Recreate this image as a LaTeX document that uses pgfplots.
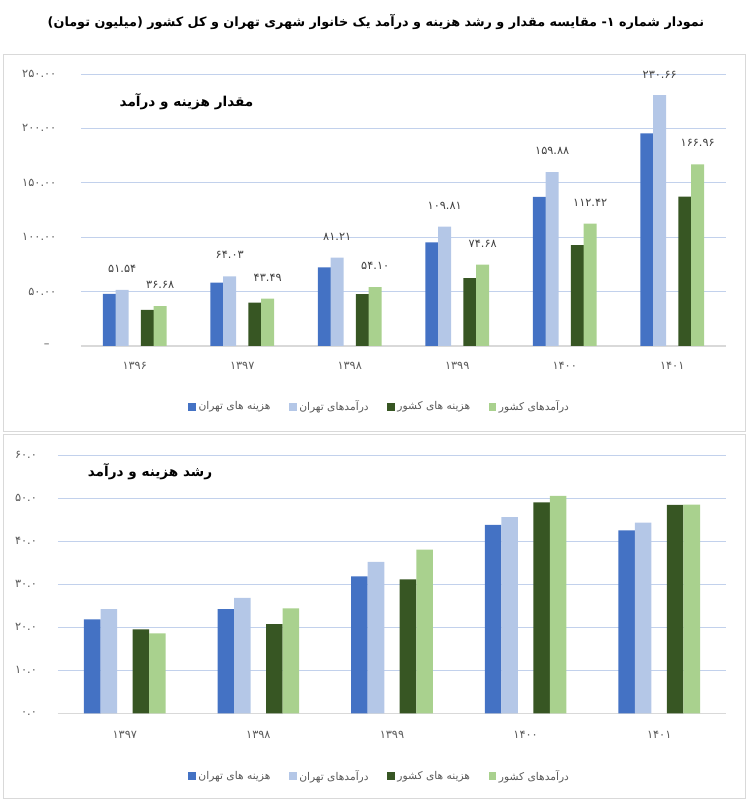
\documentclass[border=0pt]{standalone}
\usepackage{fontspec}
\usepackage{pgfplots}
\pgfplotsset{compat=1.18}
\setmainfont{DejaVu Sans}
\newfontfamily\arabicfont[Script=Arabic]{DejaVu Sans}
\TeXXeTstate=1

\definecolor{cblue}{HTML}{4472C4}
\definecolor{clblue}{HTML}{B4C7E7}
\definecolor{cdgreen}{HTML}{375623}
\definecolor{clgreen}{HTML}{A9D18E}
\definecolor{gridblue}{HTML}{C2D1EC}
\definecolor{axisgray}{HTML}{D9D9D9}
\definecolor{textgray}{HTML}{595959}
\definecolor{labelgray}{HTML}{404040}

\newcommand\fa[1]{\mbox{\arabicfont #1}}
\newcommand\rtl[1]{\mbox{\arabicfont\beginR #1\endR}}

\pgfplotsset{
  sqlegend/.style={legend image code/.code={\fill[##1] (0pt,-2.8pt) rectangle (5.6pt,2.8pt);}},
  panel/.style={
    scale only axis, ybar, clip=false,
    axis line style={draw=none},
    major tick length=0pt,
    ymajorgrids,
    major grid style={gridblue, line width=0.7pt},
    ticklabel style={font=\arabicfont\fontsize{8.5}{10}\selectfont, text=textgray},
    legend style={draw=none, fill=none, legend columns=4,
      font=\arabicfont\fontsize{8}{10}\selectfont, text=textgray,
      /tikz/every even column/.append style={column sep=12pt}},
    legend cell align=left,
  },
}

\begin{document}
\begin{tikzpicture}
\useasboundingbox (0,0) rectangle (562.5pt,600pt);
\draw[axisgray] (2.25pt,276.75pt) rectangle (558.75pt,559.5pt);
\draw[axisgray] (2.25pt,1.5pt) rectangle (558.75pt,274.5pt);

\node[font=\arabicfont\bfseries\fontsize{9.6}{12}\selectfont] at (282pt,583.5pt)
  {\beginR نمودار شماره ۱\kern0pt- مقایسه مقدار و رشد هزینه و درآمد یک خانوار شهری تهران و کل کشور (میلیون تومان)\endR};

% top panel: values
\begin{axis}[panel,
  at={(60.75pt,340.5pt)}, anchor=south west,
  width=483.75pt, height=204pt,
  xmin=-0.5, xmax=5.5, ymin=0, ymax=250,
  xtick={0,1,2,3,4,5},
  xticklabels={\fa{۱۳۹۶},\fa{۱۳۹۷},\fa{۱۳۹۸},\fa{۱۳۹۹},\fa{۱۴۰۰},\fa{۱۴۰۱}},
  ytick={0,50,100,150,200,250},
  yticklabels={\fa{–\hspace{5pt}},\fa{۵۰.۰۰},\fa{۱۰۰.۰۰},\fa{۱۵۰.۰۰},\fa{۲۰۰.۰۰},\fa{۲۵۰.۰۰}},
  yticklabel style={xshift=-15pt},
  xticklabel style={yshift=-9pt},
  legend style={at={(0.4636,-0.224)}, anchor=center},
  every node near coord/.append style={anchor=center, yshift=15.75pt,
    font=\arabicfont\fontsize{8.5}{10}\selectfont, text=labelgray},
]
\draw[axisgray, line width=0.8pt] (rel axis cs:0,0) -- (rel axis cs:1,0);
\addplot[fill=cblue, draw=none, bar width=9.75pt, bar shift=-19.1pt, sqlegend]
  coordinates {(0,47.9) (1,58.3) (2,72.3) (3,95.3) (4,137.0) (5,195.4)};
\addplot[fill=clblue, draw=none, bar width=9.75pt, bar shift=-9.4pt, sqlegend,
  point meta=explicit symbolic, nodes near coords={\fa{\pgfplotspointmeta}}]
  coordinates {(0,51.54) [۵۱.۵۴] (1,64.03) [۶۴.۰۳] (2,81.21) [۸۱.۲۱]
    (3,109.81) [۱۰۹.۸۱] (4,159.88) [۱۵۹.۸۸] (5,230.66) [\raisebox{-6.2pt}{۲۳۰.۶۶}]};
\addplot[fill=cdgreen, draw=none, bar width=9.75pt, bar shift=9.4pt, sqlegend]
  coordinates {(0,33.2) (1,39.8) (2,47.7) (3,62.3) (4,92.7) (5,137.3)};
\addplot[fill=clgreen, draw=none, bar width=9.75pt, bar shift=19.1pt, sqlegend,
  point meta=explicit symbolic, nodes near coords={\fa{\pgfplotspointmeta}}]
  coordinates {(0,36.68) [۳۶.۶۸] (1,43.49) [۴۳.۴۹] (2,54.10) [۵۴.۱۰]
    (3,74.68) [۷۴.۶۸] (4,112.42) [۱۱۲.۴۲] (5,166.96) [۱۶۶.۹۶]};
\legend{\rtl{هزینه های تهران},\rtl{درآمدهای تهران},\rtl{هزینه های کشور},\rtl{درآمدهای کشور}}
\end{axis}
\node[font=\arabicfont\bfseries\fontsize{10.2}{13}\selectfont] at (139.9pt,523.7pt)
  {\beginR مقدار هزینه و درآمد\endR};

% bottom panel: growth
\begin{axis}[panel,
  at={(43.5pt,65pt)}, anchor=south west,
  width=501pt, height=193.75pt,
  xmin=-0.5, xmax=4.5, ymin=0, ymax=60,
  xtick={0,1,2,3,4},
  xticklabels={\fa{۱۳۹۷},\fa{۱۳۹۸},\fa{۱۳۹۹},\fa{۱۴۰۰},\fa{۱۴۰۱}},
  ytick={0,10,20,30,40,50,60},
  yticklabels={\fa{۰.۰},\fa{۱۰.۰},\fa{۲۰.۰},\fa{۳۰.۰},\fa{۴۰.۰},\fa{۵۰.۰},\fa{۶۰.۰}},
  yticklabel style={xshift=-12.3pt},
  xticklabel style={yshift=-10pt},
  legend style={at={(0.482,-0.243)}, anchor=center},
]
\draw[axisgray, line width=0.8pt] (rel axis cs:0,0) -- (rel axis cs:1,0);
\addplot[fill=cblue, draw=none, bar width=12.4pt, bar shift=-24.4pt, sqlegend]
  coordinates {(0,21.8) (1,24.2) (2,31.8) (3,43.8) (4,42.5)};
\addplot[fill=clblue, draw=none, bar width=12.4pt, bar shift=-12pt, sqlegend]
  coordinates {(0,24.2) (1,26.8) (2,35.2) (3,45.6) (4,44.3)};
\addplot[fill=cdgreen, draw=none, bar width=12.4pt, bar shift=12pt, sqlegend]
  coordinates {(0,19.5) (1,20.7) (2,31.1) (3,49.0) (4,48.4)};
\addplot[fill=clgreen, draw=none, bar width=12.4pt, bar shift=24.4pt, sqlegend]
  coordinates {(0,18.6) (1,24.4) (2,38.0) (3,50.5) (4,48.5)};
\legend{\rtl{هزینه های تهران},\rtl{درآمدهای تهران},\rtl{هزینه های کشور},\rtl{درآمدهای کشور}}
\end{axis}
\node[font=\arabicfont\bfseries\fontsize{10.2}{13}\selectfont] at (112.5pt,246.2pt)
  {\beginR رشد هزینه و درآمد\endR};
\end{tikzpicture}
\end{document}
